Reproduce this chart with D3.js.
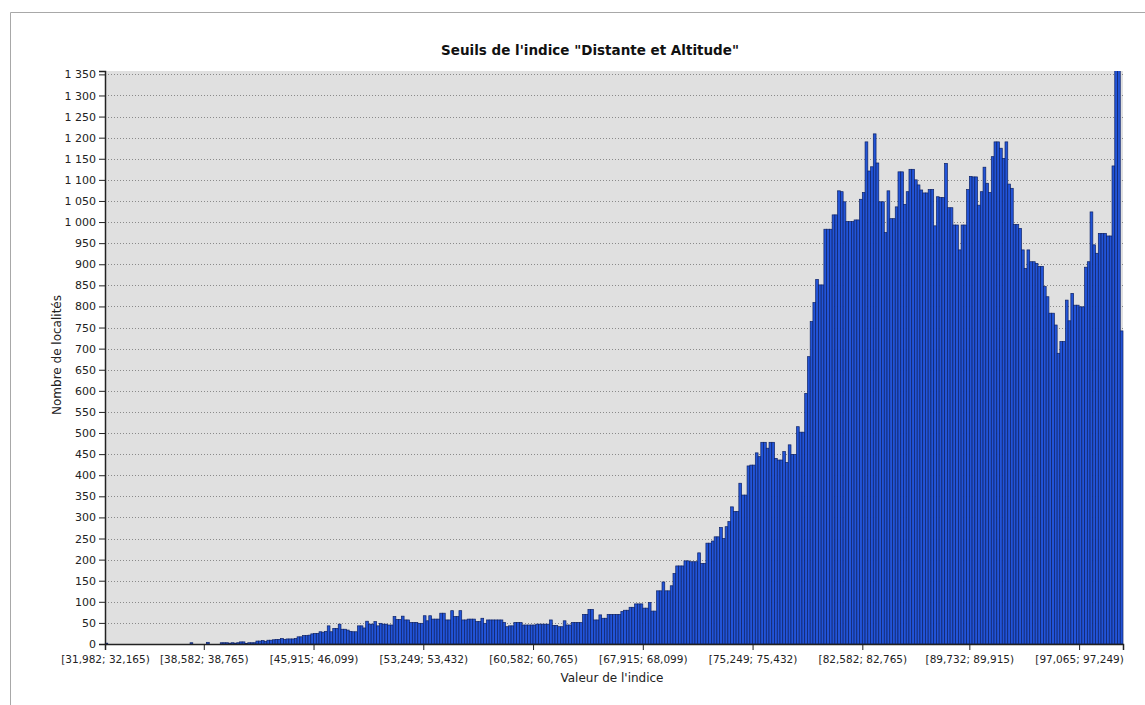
<!DOCTYPE html>
<html>
<head>
<meta charset="utf-8">
<script src="https://cdn.jsdelivr.net/npm/d3@7"></script>
<style>
  body { margin: 0; background: #fff; }
  svg { display: block; font-family: "DejaVu Sans", Verdana, sans-serif; }
</style>
</head>
<body>
<div id="chart"></div>
<script>
// bin counts (371 bins of width ~0,1833)
const counts = [
  2,
  0,0,0,0,0,0,0,0,0,0, 0,0,0,0,0,0,0,0,0,0, 0,0,0,0,0,0,0,0,0,0,
  3,
  0,0,0,0,0,
  4,
  0,0,0,0,
  3,3,3,2,3,2,3,5,5,
  1,3,3,3,7,7,8,6,
  9,9,10,11,11,13,11,12,12,12,13,
  17,17,20,20,21,24,25,25,29,28,30,
  43,29,37,37,47,35,35,33,30,
  29,29,43,43,38,54,47,47,53,43,
  49,47,47,45,45,65,58,58,
  66,57,57,51,51,51,49,49,
  67,55,67,59,59,59,73,73,57,57,
  79,65,65,79,57,57,59,59,59,
  53,53,61,49,57,57,57,57,57,57,
  51,41,43,43,51,51,51,
  45,45,45,45,45,47,47,47,47,47,
  57,44,44,41,41,55,45,45,
  51,51,51,51,70,70,82,82,
  57,57,69,61,61,70,70,70,70,70,
  77,80,80,87,87,95,95,95,85,85,
  98,78,78,126,126,147,126,126,138,167,
  185,185,185,197,197,195,195,195,216,
  191,191,239,239,244,254,254,276,250,278,290,
  325,314,314,381,353,353,422,424,424,453,444,
  478,478,464,478,478,440,436,436,456,430,
  472,449,449,515,502,502,594,681,764,809,
  864,851,851,983,983,983,1017,1017,
  1074,1072,1048,1001,1001,1001,1005,1005,1054,1070,
  1190,1121,1131,1209,1140,1048,1048,975,1074,
  1008,1008,1036,1119,1119,1042,1072,1125,1125,
  1100,1088,1076,1069,1069,1077,1077,991,1060,1058,1058,
  1139,1034,1034,993,993,934,993,993,1077,1108,
  1107,1107,1040,1072,1130,1092,1070,1155,1190,1190,
  1175,1151,1190,1090,1080,994,994,985,934,890,934,
  906,906,902,895,895,847,823,784,784,756,
  689,717,717,815,766,831,803,803,799,799,
  893,906,1024,946,926,973,973,973,967,967,
  1133,1370,1370,742
];

// bins that carry a label on the x axis, and their labels
const tickBins = [0, 36, 76, 116, 156, 196, 236, 276, 315, 355];
const tickLabels = [
  "[31,982; 32,165)", "[38,582; 38,765)", "[45,915; 46,099)", "[53,249; 53,432)",
  "[60,582; 60,765)", "[67,915; 68,099)", "[75,249; 75,432)", "[82,582; 82,765)",
  "[89,732; 89,915)", "[97,065; 97,249)"
];
const yTicks = d3.range(0, 1351, 50);

const width = 1145, height = 705;
const plot = { left: 105, right: 1123, top: 71, bottom: 644 };
const font = '"DejaVu Sans", Verdana, sans-serif';

const svg = d3.select('#chart').append('svg')
    .attr('width', width)
    .attr('height', height);

// window frame
svg.append('path')
    .attr('d', 'M10.5,705V12.5H1145')
    .attr('fill', 'none')
    .attr('stroke', '#a8a8a8');

const x = d3.scaleLinear().domain([0, counts.length]).range([plot.left, plot.right]);
const y = d3.scaleLinear().domain([0, 1358]).range([plot.bottom, plot.top]);

svg.append('rect')
    .attr('x', plot.left).attr('y', plot.top)
    .attr('width', plot.right - plot.left).attr('height', plot.bottom - plot.top)
    .attr('fill', '#e0e0e0');

svg.append('defs').append('clipPath').attr('id', 'plotClip')
    .append('rect')
    .attr('x', plot.left).attr('y', plot.top)
    .attr('width', plot.right - plot.left + 2).attr('height', plot.bottom - plot.top);

// dotted grid
svg.append('g')
    .selectAll('line')
    .data(yTicks.filter(d => d > 0))
    .enter().append('line')
    .attr('x1', plot.left).attr('x2', plot.right)
    .attr('y1', d => Math.round(y(d)) + 0.5)
    .attr('y2', d => Math.round(y(d)) + 0.5)
    .attr('stroke', '#8a8a8a')
    .attr('stroke-dasharray', '1,2');

// bars
svg.append('g')
    .attr('clip-path', 'url(#plotClip)')
    .selectAll('rect')
    .data(counts)
    .enter().append('rect')
    .attr('x', (d, i) => x(i))
    .attr('width', (d, i) => x(i + 1) - x(i))
    .attr('y', d => y(d))
    .attr('height', d => plot.bottom - y(d))
    .attr('fill', '#2254d8')
    .attr('stroke', '#0d2266')
    .attr('stroke-width', 0.7);

// y axis
const fr = d3.formatLocale({ decimal: ',', thousands: '\u00a0', grouping: [3], currency: ['', ' €'] });
const yAxis = svg.append('g')
    .attr('transform', `translate(${plot.left},0)`)
    .call(d3.axisLeft(y).tickValues(yTicks).tickFormat(fr.format(',d')).tickSize(6).tickPadding(3));

// x axis
const xAxis = svg.append('g')
    .attr('transform', `translate(0,${plot.bottom})`)
    .call(d3.axisBottom(x).tickValues(tickBins)
        .tickFormat((d, i) => tickLabels[i]).tickSize(6).tickPadding(6));

[xAxis, yAxis].forEach(g => {
    g.select('.domain').attr('stroke', '#222').attr('stroke-width', 1.5);
    g.selectAll('.tick line').attr('stroke', '#222');
    g.selectAll('.tick text').attr('fill', '#222').attr('font-size', '11px')
        .attr('font-family', font);
});
xAxis.selectAll('.tick text').attr('font-size', '10.5px');

svg.append('text')
    .attr('x', 590).attr('y', 55)
    .attr('text-anchor', 'middle')
    .attr('font-family', font)
    .attr('font-size', '13.5px')
    .attr('font-weight', 'bold')
    .attr('fill', '#111')
    .text('Seuils de l\'indice "Distante et Altitude"');

svg.append('text')
    .attr('x', 612).attr('y', 682)
    .attr('text-anchor', 'middle')
    .attr('font-family', font)
    .attr('font-size', '12px')
    .attr('fill', '#222')
    .text("Valeur de l'indice");

svg.append('text')
    .attr('transform', 'translate(61,355) rotate(-90)')
    .attr('text-anchor', 'middle')
    .attr('font-family', font)
    .attr('font-size', '12px')
    .attr('fill', '#222')
    .text('Nombre de localités');
</script>
</body>
</html>
